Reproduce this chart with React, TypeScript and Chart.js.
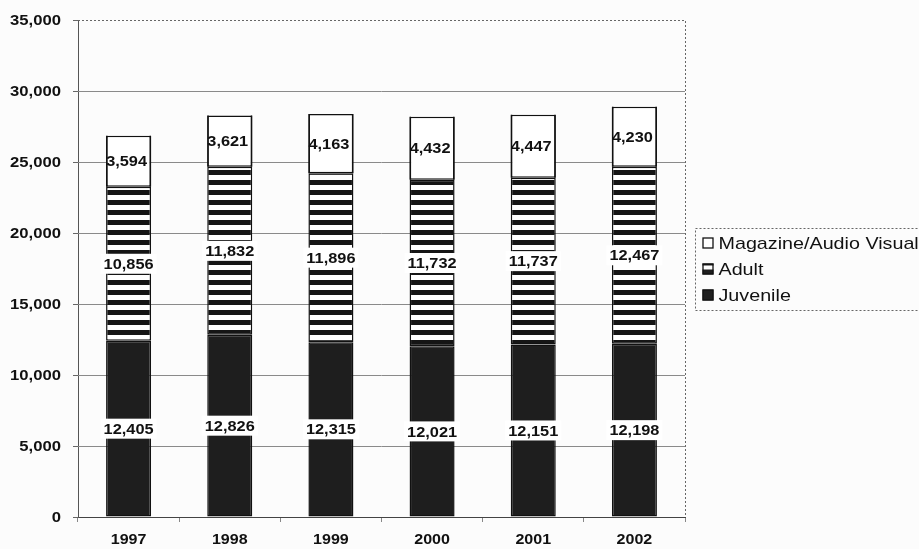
import React, { useEffect, useRef } from "react";
import { Chart, registerables } from "chart.js";

Chart.register(...registerables);

const years = ["1997", "1998", "1999", "2000", "2001", "2002"];
const juvenile = [12405, 12826, 12315, 12021, 12151, 12198];
const adult = [10856, 11832, 11896, 11732, 11737, 12467];
const magazineAV = [3594, 3621, 4163, 4432, 4447, 4230];
const seriesNames = ["Juvenile", "Adult", "Magazine/Audio Visual"];
const legendOrder = ["Magazine/Audio Visual", "Adult", "Juvenile"];
const yTicks = [0, 5000, 10000, 15000, 20000, 25000, 30000, 35000];

const FONT = "'Liberation Sans', Arial, sans-serif";
const fmt = (v: number) => v.toLocaleString("en-US");

// Text drawn with a slight horizontal widening
function wideText(
  ctx: CanvasRenderingContext2D,
  text: string,
  x: number,
  y: number,
  align: CanvasTextAlign,
  sx: number
) {
  ctx.save();
  ctx.translate(x, y);
  ctx.scale(sx, 1);
  ctx.textAlign = align;
  ctx.fillText(text, 0, 0);
  ctx.restore();
}

function stripePattern(): CanvasPattern | string {
  const c = document.createElement("canvas");
  c.width = 8;
  c.height = 10;
  const g = c.getContext("2d");
  if (!g) return "#777";
  g.fillStyle = "#ffffff";
  g.fillRect(0, 0, 8, 10);
  g.fillStyle = "#151515";
  g.fillRect(0, 0, 8, 5);
  const p = g.createPattern(c, "repeat");
  return p || "#777";
}

const backgroundPlugin = {
  id: "pageBackground",
  beforeDraw(chart: any) {
    const { ctx, width, height } = chart;
    ctx.save();
    ctx.fillStyle = "#fcfcfc";
    ctx.fillRect(0, 0, width, height);
    ctx.restore();
  },
};

// Horizontal gridlines and the dotted plot frame
const framePlugin = {
  id: "plotFrame",
  beforeDatasetsDraw(chart: any) {
    const { ctx, chartArea } = chart;
    const y = chart.scales.y;
    ctx.save();
    ctx.strokeStyle = "#8a8a8a";
    ctx.lineWidth = 1;
    yTicks.forEach((t) => {
      if (t === 0 || t === 35000) return;
      const py = Math.round(y.getPixelForValue(t)) + 0.5;
      ctx.beginPath();
      ctx.moveTo(chartArea.left, py);
      ctx.lineTo(chartArea.right, py);
      ctx.stroke();
    });
    ctx.setLineDash([2, 2]);
    ctx.strokeStyle = "#666";
    const top = Math.round(chartArea.top) + 0.5;
    const right = Math.round(chartArea.right) + 0.5;
    ctx.beginPath();
    ctx.moveTo(chartArea.left, top);
    ctx.lineTo(right, top);
    ctx.lineTo(right, chartArea.bottom);
    ctx.stroke();
    ctx.restore();
  },
};

// Axis tick labels
const axisLabelPlugin = {
  id: "axisLabels",
  afterDraw(chart: any) {
    const { ctx, chartArea } = chart;
    const x = chart.scales.x;
    const y = chart.scales.y;
    ctx.save();
    ctx.fillStyle = "#111";
    ctx.font = `bold 15px ${FONT}`;
    ctx.textBaseline = "middle";
    yTicks.forEach((t) => {
      wideText(ctx, fmt(t), chartArea.left - 17, y.getPixelForValue(t) + 1, "right", 1.11);
    });
    years.forEach((yr, i) => {
      wideText(ctx, yr, x.getPixelForTick(i), chartArea.bottom + 23, "center", 1.07);
    });
    ctx.restore();
  },
};

// Value labels centred in each segment, on a white box
const valueLabelPlugin = {
  id: "valueLabels",
  afterDatasetsDraw(chart: any) {
    const { ctx } = chart;
    const sx = 1.09;
    ctx.save();
    ctx.font = `bold 15px ${FONT}`;
    ctx.textBaseline = "middle";
    chart.data.datasets.forEach((ds: any, di: number) => {
      const meta = chart.getDatasetMeta(di);
      meta.data.forEach((bar: any, i: number) => {
        const v = ds.data[i] as number;
        const text = fmt(v);
        const cy = (bar.y + bar.base) / 2;
        const w = ctx.measureText(text).width * sx;
        const cx = di === 2 ? bar.x - 2 : bar.x;
        if (di < 2) {
          ctx.fillStyle = "#ffffff";
          ctx.fillRect(cx - w / 2 - 3, cy - 10, w + 6, 20);
        }
        ctx.fillStyle = "#111";
        wideText(ctx, text, cx, cy + 1, "center", sx);
        if (di === 2) {
          // keep the segment outline on top of its label
          const l = bar.x - bar.width / 2;
          const r = bar.x + bar.width / 2;
          ctx.strokeStyle = "#111";
          ctx.lineWidth = 1.5;
          ctx.beginPath();
          ctx.moveTo(l + 0.75, bar.y);
          ctx.lineTo(l + 0.75, bar.base);
          ctx.moveTo(r - 0.75, bar.y);
          ctx.lineTo(r - 0.75, bar.base);
          ctx.stroke();
        }
      });
    });
    ctx.restore();
  },
};

// Legend box to the right of the plot
const legendPlugin = {
  id: "sideLegend",
  afterDraw(chart: any) {
    const { ctx, chartArea } = chart;
    const bx = chartArea.right + 10.5;
    const by = 228.5;
    ctx.save();
    ctx.setLineDash([2, 2]);
    ctx.strokeStyle = "#666";
    ctx.lineWidth = 1;
    ctx.strokeRect(bx, by, 240, 82);
    ctx.setLineDash([]);
    ctx.font = `17px ${FONT}`;
    ctx.textBaseline = "middle";
    legendOrder.forEach((name, k) => {
      const cy = by + 15 + k * 26;
      const ix = bx + 7;
      const iy = cy - 6;
      ctx.lineWidth = 1.3;
      ctx.strokeStyle = "#111";
      if (name === "Juvenile") {
        ctx.fillStyle = "#1e1e1e";
        ctx.fillRect(ix, iy, 11, 11);
      } else {
        ctx.fillStyle = "#fff";
        ctx.fillRect(ix, iy, 11, 11);
        if (name === "Adult") {
          ctx.fillStyle = "#1e1e1e";
          ctx.fillRect(ix, iy + 6, 11, 5);
          ctx.fillRect(ix, iy, 11, 2);
        }
      }
      ctx.strokeRect(ix + 0.5, iy + 0.5, 10, 10);
      ctx.fillStyle = "#111";
      wideText(ctx, name, ix + 16, cy + 1, "left", 1.16);
    });
    ctx.restore();
  },
};

export default function App() {
  const ref = useRef<HTMLCanvasElement | null>(null);

  useEffect(() => {
    document.body.style.margin = "0";
    const canvas = ref.current;
    if (!canvas) return;
    const stripes = stripePattern();
    const fills = ["#1e1e1e", stripes, "#ffffff"];
    const values = [juvenile, adult, magazineAV];

    const chart = new Chart(canvas, {
      type: "bar",
      data: {
        labels: years,
        datasets: seriesNames.map((name, i) => ({
          label: name,
          data: values[i],
          backgroundColor: fills[i] as any,
          borderColor: "#111",
          borderWidth: 1.5,
          borderSkipped: false,
          categoryPercentage: 1,
          barPercentage: 0.445,
          stack: "total",
        })),
      },
      options: {
        responsive: false,
        animation: false,
        devicePixelRatio: 1,
        layout: { padding: { top: 20, right: 234, left: 0, bottom: 0 } },
        plugins: {
          legend: { display: false },
          tooltip: { enabled: false },
        },
        scales: {
          x: {
            stacked: true,
            grid: {
              display: true,
              drawOnChartArea: false,
              offset: true,
              tickLength: 5,
              color: "#888",
            },
            border: { display: true, color: "#444", width: 1 },
            ticks: { display: false },
            afterFit(scale: any) {
              scale.height = 32;
            },
          },
          y: {
            stacked: true,
            min: 0,
            max: 35000,
            grid: {
              display: true,
              drawOnChartArea: false,
              tickLength: 5,
              color: "#666",
            },
            border: { display: true, color: "#555", dash: [2, 2], width: 1 },
            ticks: { display: false, stepSize: 5000 },
            afterFit(scale: any) {
              scale.width = 78;
            },
          },
        },
      },
      plugins: [backgroundPlugin, framePlugin, valueLabelPlugin, axisLabelPlugin, legendPlugin],
    });

    return () => chart.destroy();
  }, []);

  return (
    <canvas
      ref={ref}
      width={919}
      height={549}
      style={{ position: "fixed", left: 0, top: 0, width: 919, height: 549 }}
    />
  );
}
